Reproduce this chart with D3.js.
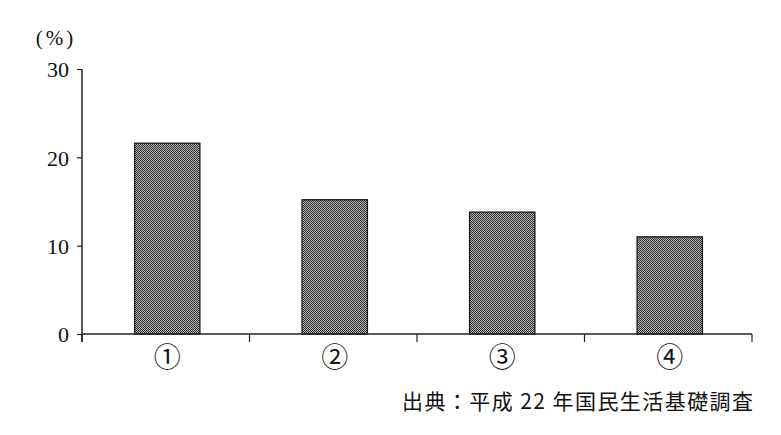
<!DOCTYPE html>
<html><head><meta charset="utf-8">
<script src="https://cdn.jsdelivr.net/npm/d3@7"></script>
<style>body{margin:0;background:#fff}svg{display:block}</style>
</head><body>
<svg id="c" width="781" height="435"></svg>
<script>
const categories = ["①","②","③","④"];
const values = [21.6, 15.2, 13.8, 11.0];
const yTicks = [0, 10, 20, 30];
const unitLabel = "(%)";
const sourceLabel = "出典：平成 22 年国民生活基礎調査";

const svg = d3.select("#c");
const serif = "'Liberation Serif','DejaVu Serif','Noto Sans CJK JP',serif";

const x = d3.scaleBand().domain(categories).range([82, 752]).padding(0);
const y = d3.scaleLinear().domain([0, 30]).range([334, 69]);

// dither-like pattern
const defs = svg.append("defs");
const pat = defs.append("pattern").attr("id","dots").attr("width",2).attr("height",2)
  .attr("patternUnits","userSpaceOnUse");
pat.append("rect").attr("width",2).attr("height",2).attr("fill","#b4b4b4");
pat.append("rect").attr("width",1).attr("height",1).attr("fill","#303030");
pat.append("rect").attr("x",1).attr("y",1).attr("width",1).attr("height",1).attr("fill","#303030");

const bw = x.bandwidth() * 0.39;
svg.selectAll("rect.bar").data(values).enter().append("rect")
  .attr("class","bar")
  .attr("x", (d,i) => x(categories[i]) + x.bandwidth()/2 - bw/2 + 1.5)
  .attr("y", d => y(d))
  .attr("width", bw)
  .attr("height", d => y(0) - y(d))
  .attr("fill", "url(#dots)")
  .attr("stroke", "#1a1a1a").attr("stroke-width", 1.3);

// y axis
const yAxis = svg.append("g").attr("transform","translate(82,0)")
  .call(d3.axisLeft(y).tickValues(yTicks).tickSize(5).tickFormat(d3.format("d")));
yAxis.select(".domain").attr("d", `M0,${y(30)}V${y(0)+8}`).attr("stroke","#222").attr("stroke-width",1.5);
yAxis.selectAll(".tick line").attr("stroke","#222").attr("stroke-width",1.2);
yAxis.selectAll(".tick text").attr("font-family", serif).attr("font-size", 22)
  .attr("fill","#111").attr("x",-13).attr("dy","0.36em");

// x axis
const bounds = categories.map(c => x(c)).concat([x.range()[1]]);
const xg = svg.append("g");
xg.append("line").attr("x1",82).attr("x2",752).attr("y1",y(0)).attr("y2",y(0))
  .attr("stroke","#222").attr("stroke-width",1.5);
xg.selectAll("line.tk").data(bounds).enter().append("line").attr("class","tk")
  .attr("x1",d=>d).attr("x2",d=>d).attr("y1",y(0)).attr("y2",y(0)+8)
  .attr("stroke","#222").attr("stroke-width",1.2);
xg.selectAll("text").data(categories).enter().append("text")
  .attr("x", d => x(d) + x.bandwidth()/2 + 1.5)
  .attr("y", 367)
  .attr("text-anchor","middle")
  .attr("font-family","'DejaVu Serif','Noto Sans CJK JP',serif")
  .attr("font-size", 27).attr("fill","#111")
  .text(d => d);

svg.append("text").attr("x",56).attr("y",45).attr("text-anchor","middle")
  .attr("font-family", serif).attr("font-size",21).attr("letter-spacing",3).attr("fill","#111").text(unitLabel);

svg.append("text").attr("x",753).attr("y",409).attr("text-anchor","end")
  .attr("font-family","'Noto Sans CJK JP',serif").attr("font-size",21).attr("fill","#111")
  .attr("textLength",351).attr("lengthAdjust","spacing")
  .text(sourceLabel);
</script>
</body></html>
